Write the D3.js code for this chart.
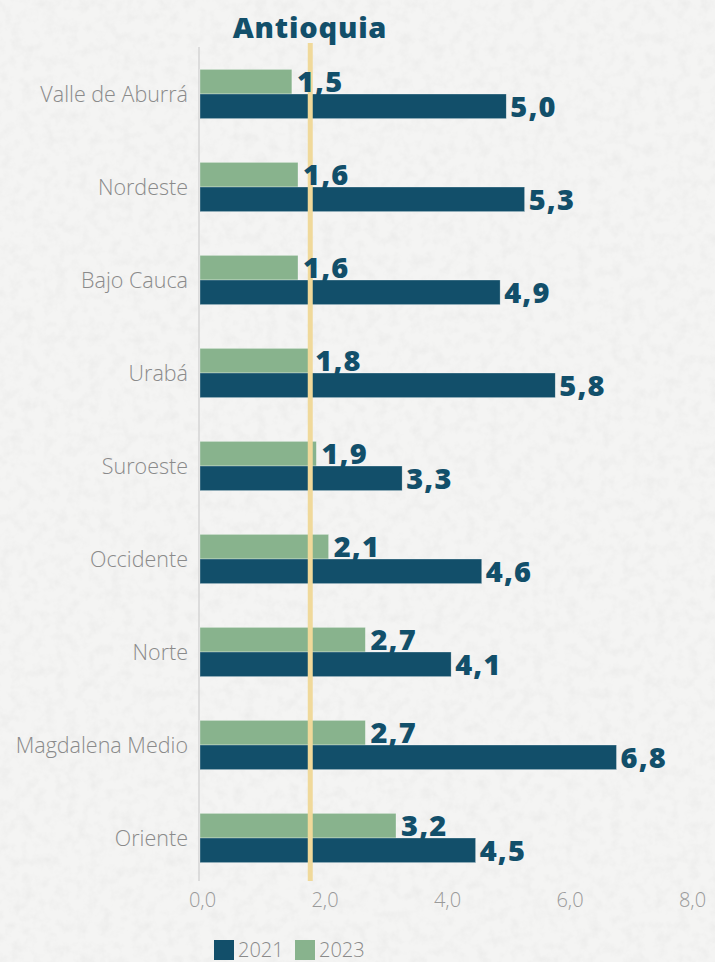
<!DOCTYPE html>
<html>
<head>
<meta charset="utf-8">
<script src="https://cdn.jsdelivr.net/npm/d3@7"></script>
<style>
  html, body { margin: 0; padding: 0; background: #f3f3f2; }
  svg { display: block; }
</style>
</head>
<body>
<script>
// Data
var regions = ["Valle de Aburrá", "Nordeste", "Bajo Cauca", "Urabá", "Suroeste",
               "Occidente", "Norte", "Magdalena Medio", "Oriente"];
var values2021 = [5.0, 5.3, 4.9, 5.8, 3.3, 4.6, 4.1, 6.8, 4.5];
var values2023 = [1.5, 1.6, 1.6, 1.8, 1.9, 2.1, 2.7, 2.7, 3.2];
var avgValue = 1.8;
var xTicks = [0, 2, 4, 6, 8];
var seriesNames = ["2021", "2023"];

var width = 715, height = 962;
var darkBlue = "#124f6a", green = "#88b38d", yellow = "#f0d99a";
var font = "'Open Sans', sans-serif";
var fmt = function(d) { return d.toFixed(1).replace(".", ","); };

var svg = d3.select("body").append("svg")
    .attr("width", width)
    .attr("height", height);

// Paper texture background
var defs = svg.append("defs");
var filter = defs.append("filter").attr("id", "paper");
filter.append("feTurbulence")
    .attr("type", "fractalNoise")
    .attr("baseFrequency", 0.09)
    .attr("numOctaves", 4)
    .attr("seed", 7);
filter.append("feColorMatrix")
    .attr("type", "matrix")
    .attr("values", "0 0 0 0 0  0 0 0 0 0  0 0 0 0 0  0 0 0 -0.9 0.55");
svg.append("rect").attr("width", width).attr("height", height).attr("fill", "#f4f4f3");
svg.append("rect").attr("width", width).attr("height", height)
    .attr("filter", "url(#paper)").attr("opacity", 0.06);

// Scales
var x = d3.scaleLinear().domain([0, 8]).range([200, 690]);
var y = d3.scaleBand().domain(regions).range([47.5, 884.5]).paddingInner(0.47).paddingOuter(0.235);
var sub = d3.scaleBand().domain(["2023", "2021"]).range([0, y.bandwidth()]);

// Axis line (left)
svg.append("line")
    .attr("x1", x(0) - 1).attr("x2", x(0) - 1)
    .attr("y1", 47).attr("y2", 881)
    .attr("stroke", "#d4d4d4").attr("stroke-width", 1.5);

// Category labels
svg.selectAll(".cat")
    .data(regions)
    .enter().append("text")
    .attr("class", "cat")
    .attr("x", 188)
    .attr("y", function(d) { return y(d) + y.bandwidth() / 2; })
    .attr("dy", "0.35em")
    .attr("text-anchor", "end")
    .style("font-family", font)
    .style("font-weight", "300")
    .style("font-size", "21.5px")
    .style("fill", "#8a8a8a")
    .text(function(d) { return d; });

// Bars 2023 (green, top)
svg.selectAll(".bar23")
    .data(regions)
    .enter().append("rect")
    .attr("x", x(0))
    .attr("y", function(d) { return y(d) + sub("2023"); })
    .attr("width", function(d, i) { return x(values2023[i]) - x(0); })
    .attr("height", sub.bandwidth())
    .attr("fill", green)
    .attr("stroke", "#ffffff").attr("stroke-opacity", 0.5).attr("stroke-width", 0.6);

// Bars 2021 (dark, bottom)
svg.selectAll(".bar21")
    .data(regions)
    .enter().append("rect")
    .attr("x", x(0))
    .attr("y", function(d) { return y(d) + sub("2021"); })
    .attr("width", function(d, i) { return x(values2021[i]) - x(0); })
    .attr("height", sub.bandwidth())
    .attr("fill", darkBlue)
    .attr("stroke", "#ffffff").attr("stroke-opacity", 0.5).attr("stroke-width", 0.6);

// Average line
svg.append("line")
    .attr("x1", x(avgValue)).attr("x2", x(avgValue))
    .attr("y1", 43).attr("y2", 881)
    .attr("stroke", yellow).attr("stroke-width", 5);

// Value labels
svg.selectAll(".lab23")
    .data(regions)
    .enter().append("text")
    .attr("x", function(d, i) { return x(values2023[i]) + 5; })
    .attr("y", function(d) { return y(d) + sub("2023") + sub.bandwidth() - 2; })
    .style("font-family", font)
    .style("font-weight", "800")
    .style("font-size", "29px")
    .style("letter-spacing", "1.2px")
    .style("fill", darkBlue)
    .text(function(d, i) { return fmt(values2023[i]); });

svg.selectAll(".lab21")
    .data(regions)
    .enter().append("text")
    .attr("x", function(d, i) { return x(values2021[i]) + 4; })
    .attr("y", function(d) { return y(d) + sub("2021") + sub.bandwidth() - 2; })
    .style("font-family", font)
    .style("font-weight", "800")
    .style("font-size", "29px")
    .style("letter-spacing", "1.2px")
    .style("fill", darkBlue)
    .text(function(d, i) { return fmt(values2021[i]); });

// X axis tick labels
var xAxis = d3.axisBottom(x).tickValues(xTicks).tickSize(0).tickPadding(0).tickFormat(fmt);
var gx = svg.append("g")
    .attr("transform", "translate(2,893)")
    .call(xAxis);
gx.select(".domain").remove();
gx.selectAll("text")
    .style("font-family", font)
    .style("font-weight", "300")
    .style("font-size", "20px")
    .style("fill", "#9a9a9a");

// Title
svg.append("text")
    .attr("x", 310)
    .attr("y", 38)
    .attr("text-anchor", "middle")
    .style("font-family", font)
    .style("font-weight", "800")
    .style("font-size", "29px")
    .style("letter-spacing", "0.8px")
    .style("fill", darkBlue)
    .text("Antioquia");

// Legend
var legendColors = [darkBlue, green];
var legendX = [214, 295];
seriesNames.forEach(function(name, i) {
  svg.append("rect")
      .attr("x", legendX[i]).attr("y", 940)
      .attr("width", 20).attr("height", 20)
      .attr("fill", legendColors[i]);
  svg.append("text")
      .attr("x", legendX[i] + 24).attr("y", 957)
      .style("font-family", font)
      .style("font-weight", "300")
      .style("font-size", "20px")
      .style("fill", "#8a8a8a")
      .text(name);
});
</script>
</body>
</html>
